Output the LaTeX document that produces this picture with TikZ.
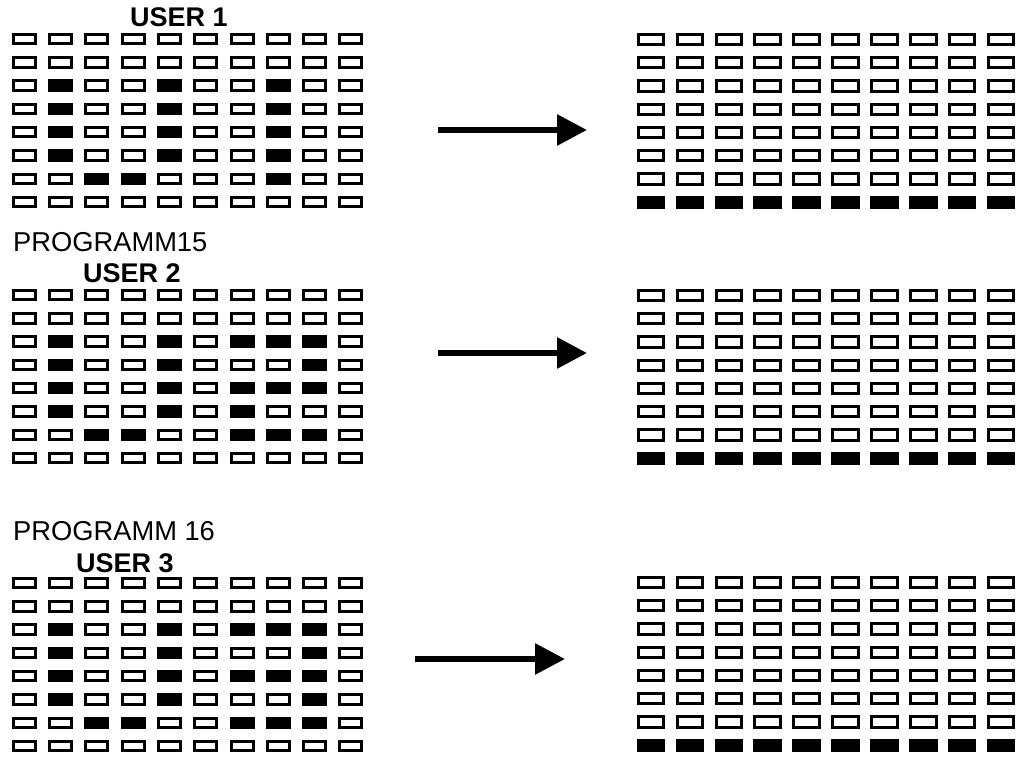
\documentclass[tikz,border=0pt]{standalone}
\usepackage{fontspec}
\setmainfont{Liberation Sans}
\usetikzlibrary{arrows.meta, positioning}

\tikzset{
  cell/.style={draw, line width=3pt},
  oncell/.style={cell, fill=black},
  usertext/.style={inner sep=0pt, anchor=base west, font=\fontsize{27}{32}\selectfont\bfseries},
  progtext/.style={inner sep=0pt, anchor=base west, font=\fontsize{27.3}{32}\selectfont},
  bigarrow/.style={line width=6pt, -{Triangle[length=30pt, width=30pt]}}
}

% left panel: #1 = top edge, #2 = lit cells (row/column, from 0)
\newcommand{\leftpanel}[2]{%
  \foreach \r in {0,...,7}
    \foreach \c in {0,...,9}
      \draw[cell] ({13.2+36.3*\c},{#1+1.25+23.3*\r}) rectangle ++(22,9.5);
  \foreach \r/\c in {#2}
    \draw[oncell] ({13.2+36.3*\c},{#1+1.25+23.3*\r}) rectangle ++(22,9.5);
}
% right panel: bottom row lit
\newcommand{\rightpanel}[1]{%
  \foreach \r in {0,...,6}
    \foreach \c in {0,...,9}
      \draw[cell] ({638.25+38.9*\c},{#1+1.15+23.3*\r}) rectangle ++(25.5,10.3);
  \foreach \c in {0,...,9}
    \draw[oncell] ({638.25+38.9*\c},{#1+1.15+23.3*7}) rectangle ++(25.5,10.3);
}

\begin{document}
\begin{tikzpicture}[x=1pt, y=-1pt]
  \useasboundingbox (0,0) rectangle (1026,759);

  % Labels
  \node[usertext] (user1) at (130,27) {USER 1};
  \node[progtext] (prog15) at (13,252) {PROGRAMM15};
  \node[usertext] (user2) at (83,283) {USER 2};
  \node[progtext] (prog16) at (13,540) {PROGRAMM 16};
  \node[usertext] (user3) at (76,572) {USER 3};

  % User 1
  \leftpanel{33}{2/1,2/4,2/7,3/1,3/4,3/7,4/1,4/4,4/7,5/1,5/4,5/7,6/2,6/3,6/7}
  \rightpanel{33}

  % User 2
  \leftpanel{289}{2/1,2/4,2/6,2/7,2/8,3/1,3/4,3/8,4/1,4/4,4/6,4/7,4/8,5/1,5/4,5/6,6/2,6/3,6/6,6/7,6/8}
  \rightpanel{289}

  % User 3
  \leftpanel{577}{2/1,2/4,2/6,2/7,2/8,3/1,3/4,3/8,4/1,4/4,4/6,4/7,4/8,5/1,5/4,5/8,6/2,6/3,6/6,6/7,6/8}
  \rightpanel{576}

  % Arrows
  \coordinate (from1) at (438,130);
  \coordinate (to1) at (587,130);
  \coordinate (from2) at (438,353);
  \coordinate (to2) at (587,353);
  \coordinate (from3) at (415,659);
  \coordinate (to3) at (565,659);
  \draw[bigarrow] (from1) -- (to1);
  \draw[bigarrow] (from2) -- (to2);
  \draw[bigarrow] (from3) -- (to3);
\end{tikzpicture}
\end{document}
